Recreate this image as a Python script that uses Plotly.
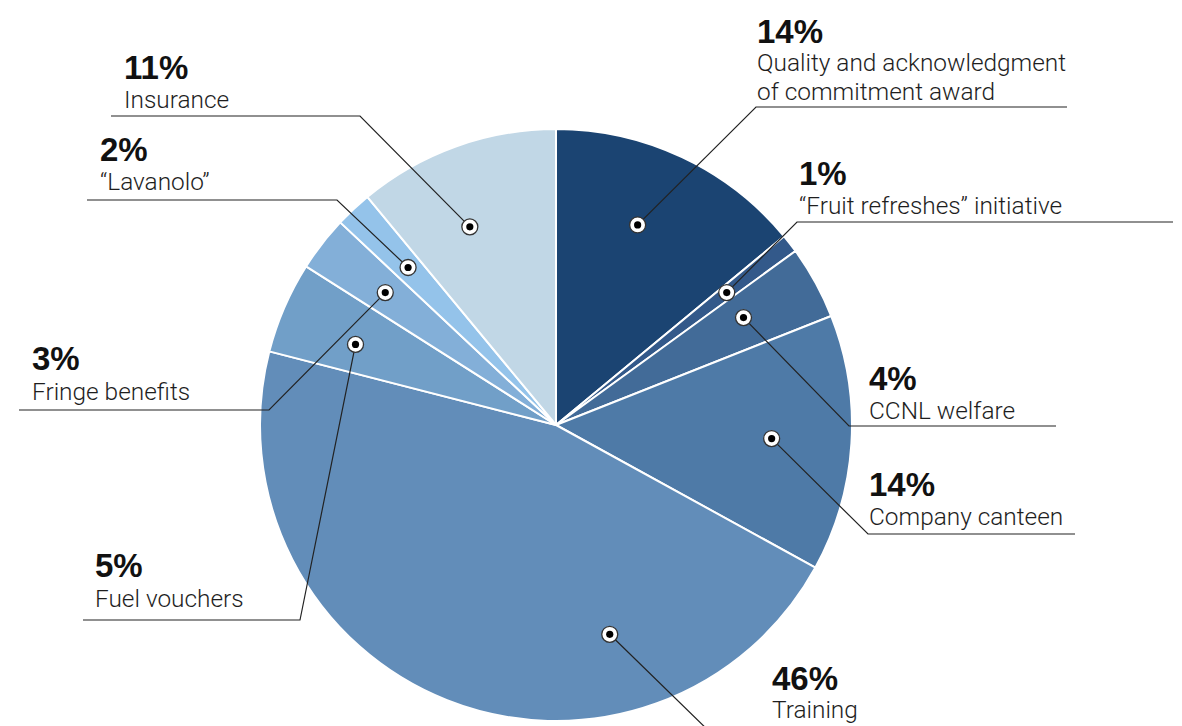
import math
import plotly.graph_objects as go

# Benefit categories and their share of the total (%)
categories = [
    "Quality and acknowledgment<br>of commitment award",
    "“Fruit refreshes” initiative",
    "CCNL welfare",
    "Company canteen",
    "Training",
    "Fuel vouchers",
    "Fringe benefits",
    "“Lavanolo”",
    "Insurance",
]
shares = [14, 1, 4, 14, 46, 5, 3, 2, 11]

slice_colors = [
    "#1b4472", "#33598a", "#426b98", "#4e7aa7", "#628db9",
    "#719fc8", "#83afd8", "#94c3ea", "#c1d7e6",
]

W, H = 1182, 726
CX, CY, R = 556, 425, 296          # pie centre / radius in pixels
DOT_R = 0.73                       # radial position of the callout dots

# callout layout: text x, percent y, first name-line y, elbow x, elbow y, far end x
callouts = [
    (755, 31.5, 62.5, 756, 107, 1067),
    (797, 173, 205, 797, 222, 1173),
    (867, 378, 410, 849, 426, 1056),
    (867, 484, 516, 868, 534, 1075),
    (770, 678, 709, 714, 736, 1100),
    (93, 565, 598, 300, 620, 83),
    (30, 358, 391, 269, 410, 19),
    (98, 149.5, 181, 337, 200, 87),
    (122, 67.5, 99, 360, 116, 111),
]
# angular nudges (degrees) of some callout dots away from the slice middle
dot_angle_shift = {0: -3.0, 2: -1.0, 4: -36.0, 5: -1.5, 8: -3.7}

fig = go.Figure()

fig.add_trace(go.Pie(
    values=shares,
    labels=[c.replace("<br>", " ") for c in categories],
    sort=False,
    direction="clockwise",
    rotation=0,
    textinfo="none",
    hoverinfo="label+percent",
    marker=dict(colors=slice_colors, line=dict(color="white", width=2)),
    domain=dict(x=[(CX - R) / W, (CX + R) / W],
                y=[(H - CY - R) / H, (H - CY + R) / H]),
    showlegend=False,
))

# invisible pixel-space axes for the callouts
fig.add_trace(go.Scatter(x=[0, W], y=[0, H], mode="markers",
                         marker=dict(opacity=0), hoverinfo="skip", showlegend=False))

total = sum(shares)
shapes, annotations = [], []
cum = 0.0
for i, (cat, v) in enumerate(zip(categories, shares)):
    mid = (cum + v / 2) / total * 360.0 + dot_angle_shift.get(i, 0.0)
    cum += v
    th = math.radians(mid)
    mx = CX + DOT_R * R * math.sin(th)
    my = CY - DOT_R * R * math.cos(th)
    tx, py, ny, ex, ey, fx = callouts[i]

    shapes.append(dict(type="path", xref="x", yref="y",
                       path=f"M {mx:.1f} {my:.1f} L {ex} {ey} L {fx} {ey}",
                       line=dict(color="#222222", width=1.2)))
    shapes.append(dict(type="circle", xref="x", yref="y",
                       x0=mx - 8, x1=mx + 8, y0=my - 8, y1=my + 8,
                       fillcolor="white", line=dict(color="#333333", width=1.3)))
    shapes.append(dict(type="circle", xref="x", yref="y",
                       x0=mx - 3.6, x1=mx + 3.6, y0=my - 3.6, y1=my + 3.6,
                       fillcolor="black", line=dict(width=0)))

    annotations.append(dict(x=tx, y=py, xref="x", yref="y", text=f"<b>{v}%</b>",
                            showarrow=False, xanchor="left", yanchor="middle",
                            font=dict(family="Liberation Sans", size=33, color="#111111")))
    for k, line in enumerate(cat.split("<br>")):
        annotations.append(dict(x=tx, y=ny + 29 * k, xref="x", yref="y", text=line,
                                showarrow=False, xanchor="left", yanchor="middle",
                                font=dict(family="Roboto", size=24.4, weight=300,
                                          color="#1e1e1e")))

fig.update_layout(
    width=W, height=H,
    margin=dict(l=0, r=0, t=0, b=0),
    paper_bgcolor="white", plot_bgcolor="rgba(0,0,0,0)",
    xaxis=dict(range=[0, W], visible=False, fixedrange=True),
    yaxis=dict(range=[H, 0], visible=False, fixedrange=True),
    shapes=shapes,
    annotations=annotations,
)

fig.write_html("out.html")
